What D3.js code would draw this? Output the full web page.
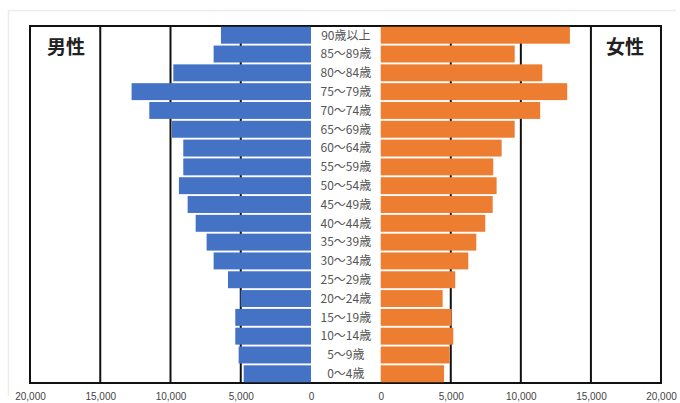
<!DOCTYPE html>
<html>
<head>
<meta charset="utf-8">
<script src="https://cdn.jsdelivr.net/npm/d3@7"></script>
<style>
body{margin:0;background:#fff;}
svg{display:block;}
</style>
</head>
<body>
<svg id="chart" width="680" height="403"></svg>
<script>
const ageGroups = ["90歳以上","85～89歳","80～84歳","75～79歳","70～74歳","65～69歳","60～64歳","55～59歳","50～54歳","45～49歳","40～44歳","35～39歳","30～34歳","25～29歳","20～24歳","15～19歳","10～14歳","5～9歳","0～4歳"];
const male   = [6410,6930,9800,12770,11510,9900,9090,9090,9400,8780,8210,7430,6930,5910,5010,5390,5390,5150,4790];
const female = [13500,9560,11530,13310,11380,9560,8630,8030,8270,7990,7460,6820,6250,5320,4420,5060,5180,4920,4520];
const tickValues = [0,5000,10000,15000,20000];
const tickFormat = d3.format(",");

(function(){
const svg = d3.select("#chart");
const plotTop = 26, plotBottom = 383;
const leftX0 = 311, leftX1 = 30;
const rightX0 = 380.7, rightX1 = 661;

const xL = d3.scaleLinear().domain([0,20000]).range([leftX0,leftX1]);
const xR = d3.scaleLinear().domain([0,20000]).range([rightX0,rightX1]);
const y = d3.scaleBand().domain(ageGroups).range([plotTop,plotBottom]).paddingInner(0.1).paddingOuter(0.04);

svg.append("path").attr("d","M8.5,396 L8.5,10.5 L676,10.5").attr("fill","none").attr("stroke","#ececec").attr("stroke-width",1.5);

const gl = svg.append("g").attr("stroke","#111").attr("stroke-width",2);
[5000,10000,15000].forEach(v=>{
  gl.append("line").attr("x1",xL(v)).attr("x2",xL(v)).attr("y1",plotTop).attr("y2",plotBottom);
  gl.append("line").attr("x1",xR(v)).attr("x2",xR(v)).attr("y1",plotTop).attr("y2",plotBottom);
});
svg.append("rect").attr("x",leftX1).attr("y",plotTop).attr("width",rightX1-leftX1).attr("height",plotBottom-plotTop)
  .attr("fill","none").attr("stroke","#111").attr("stroke-width",2);

svg.append("g").selectAll("rect").data(ageGroups).join("rect")
  .attr("x",(d,i)=>xL(male[i])).attr("y",d=>y(d))
  .attr("width",(d,i)=>xL(0)-xL(male[i])).attr("height",y.bandwidth())
  .attr("fill","#4472C4");
svg.append("g").selectAll("rect").data(ageGroups).join("rect")
  .attr("x",xR(0)).attr("y",d=>y(d))
  .attr("width",(d,i)=>xR(female[i])-xR(0)).attr("height",y.bandwidth())
  .attr("fill","#ED7D31");

svg.append("g").selectAll("text").data(ageGroups).join("text")
  .attr("x",(leftX0+rightX0)/2).attr("y",d=>y(d)+y.bandwidth()/2)
  .attr("dy","0.36em").attr("text-anchor","middle")
  .attr("font-family","'Noto Sans CJK JP', sans-serif").attr("font-size",12)
  .attr("fill","#555").text(d=>d);

const axL = d3.axisBottom(xL).tickValues(tickValues).tickFormat(tickFormat).tickSize(0).tickPadding(10);
const axR = d3.axisBottom(xR).tickValues(tickValues).tickFormat(tickFormat).tickSize(0).tickPadding(10);
[axL,axR].forEach(ax=>{
  const g = svg.append("g").attr("transform",`translate(0,${plotBottom})`).call(ax);
  g.select(".domain").remove();
  g.selectAll("text").attr("font-family","'Liberation Sans', Arial, sans-serif").attr("font-size",10).attr("fill","#444");
});

svg.append("text").attr("x",66).attr("y",47).attr("dy","0.36em").attr("text-anchor","middle")
  .attr("font-family","'Noto Sans CJK JP', sans-serif").attr("font-weight","bold").attr("font-size",19).attr("fill","#222").text("男性");
svg.append("text").attr("x",625).attr("y",47).attr("dy","0.36em").attr("text-anchor","middle")
  .attr("font-family","'Noto Sans CJK JP', sans-serif").attr("font-weight","bold").attr("font-size",19).attr("fill","#222").text("女性");
})();
</script>
</body>
</html>
